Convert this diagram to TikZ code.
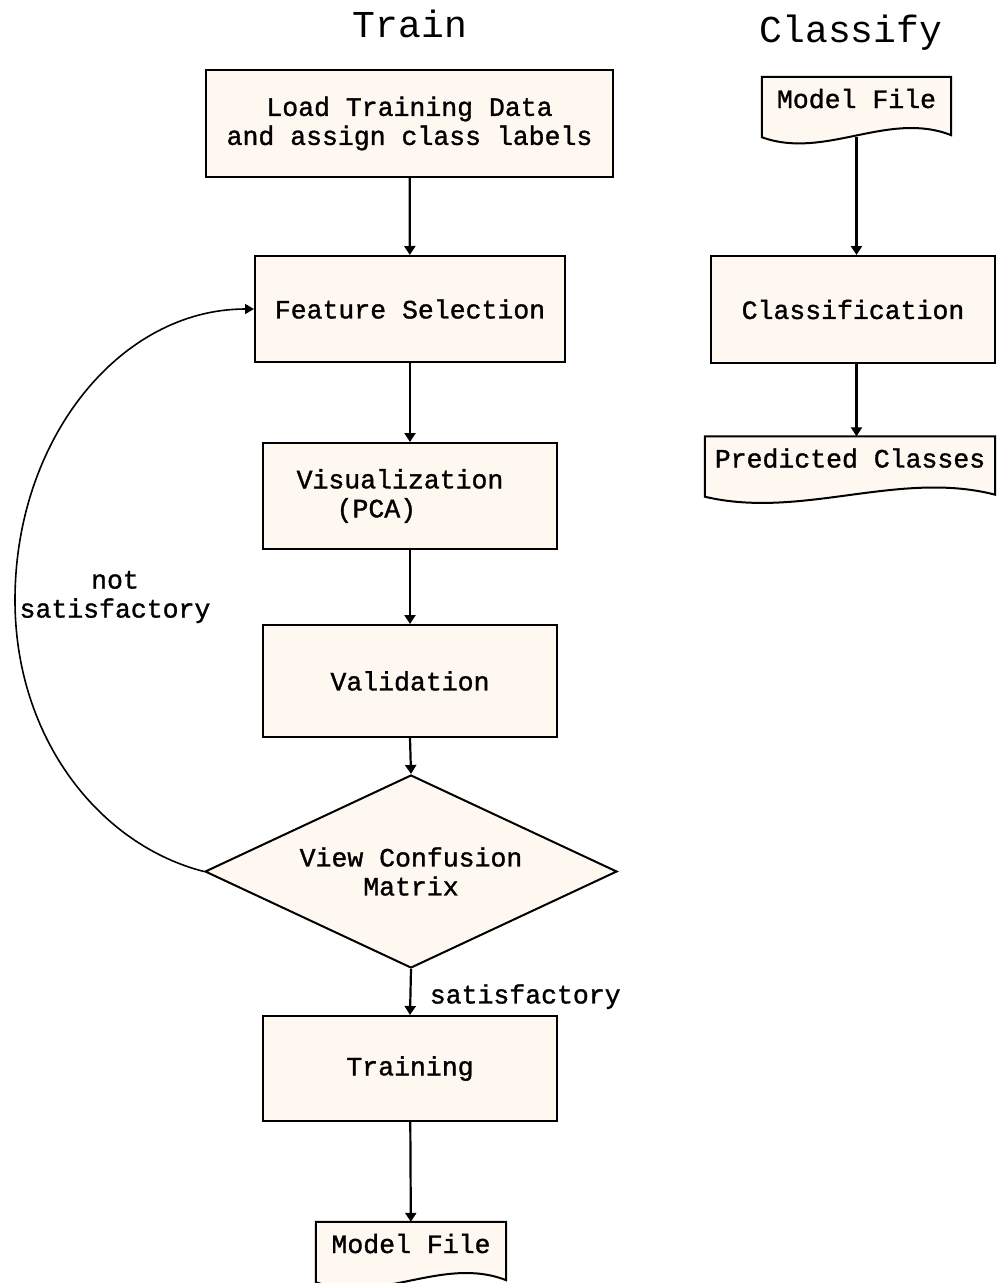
\documentclass[tikz,border=0pt]{standalone}
\usepackage{fontspec}
\setmainfont{Liberation Mono}[FakeBold=1.2]
\newfontfamily\titlefont{Liberation Mono}
\usetikzlibrary{shapes.geometric,arrows.meta,calc,backgrounds}

\definecolor{boxfill}{RGB}{255,248,240}

% Outline of a "document" shape: flat top, wavy bottom edge
\newcommand\docoutline[1]{%
  \path[draw=black,line width=2pt,fill=boxfill,line join=miter]
    (#1.south west) -- (#1.north west) -- (#1.north east) -- ($(#1.south east)+(0,-2)$)
    .. controls ($(#1.south west)!0.667!(#1.south east)+(0,-27)$)
            and ($(#1.south west)!0.333!(#1.south east)+(0,23)$) .. (#1.south west) -- cycle;}

\begin{document}
\begin{tikzpicture}[x=1pt,y=-1pt,
  every node/.style={font=\fontsize{26.5}{29}\selectfont},
  procbox/.style={draw=black,line width=2pt,fill=boxfill,rectangle,inner sep=0pt,align=center},
  decbox/.style={draw=black,line width=2pt,fill=boxfill,diamond,shape aspect=2.13,inner sep=0pt,align=center},
  docnode/.style={rectangle,inner sep=0pt,text height=31pt,text depth=29pt,minimum height=60pt},
  title/.style={font=\titlefont\fontsize{38}{44}\selectfont},
  flow/.style={line width=2.2pt,-{Triangle[width=11pt,length=9pt]}},
  loopline/.style={line width=1.6pt,-{Triangle[width=10pt,length=9pt]}},
  note/.style={align=center}]

\useasboundingbox (0,0) rectangle (997,1283);

% column titles
\node[title] (ttrain) at (410,24) {Train};
\node[title] (tclass) at (851,33) {Classify};

% training column
\node[procbox,minimum width=407pt,minimum height=107pt] (load) at (409.5,123.5)
  {Load Training Data\\and assign class labels};
\node[procbox,minimum width=310pt,minimum height=106pt] (fs) at (410,309) {Feature Selection};
\node[procbox,minimum width=294pt,minimum height=106pt,align=left] (vis) at (410,496)
  {Visualization\hspace*{20pt}\\\hspace*{40pt}(PCA)};
\node[procbox,minimum width=294pt,minimum height=112pt] (val) at (410,681) {Validation};
\node[decbox,minimum width=412pt,minimum height=193pt] (dia) at (411,871.5)
  {View Confusion\\Matrix};
\node[procbox,minimum width=294pt,minimum height=105pt] (train) at (410,1068.5) {Training};
\node[docnode,minimum width=190pt] (mfB) at (411,1252) {Model File};

% classification column
\node[docnode,minimum width=189pt] (mfA) at (856.5,107) {Model File};
\node[procbox,minimum width=284pt,minimum height=107pt] (cls) at (853,309.5) {Classification};
\node[docnode,minimum width=290pt] (pred) at (850,466.5) {Predicted Classes};

% document outlines behind their labels
\begin{scope}[on background layer]
  \docoutline{mfA}
  \docoutline{pred}
  \docoutline{mfB}
\end{scope}

% connectors
\draw[flow] (load) -- (fs);
\draw[flow] (fs) -- (vis);
\draw[flow] (vis) -- (val);
\draw[flow] (val.south) -- (dia.north);
\draw[flow] (dia.south) -- node[pos=0.6,anchor=west,xshift=15pt] (lsat) {satisfactory} (train.north);
\draw[flow] (train) -- (mfB);

\draw[flow] (mfA.south) -- (mfA.south |- cls.north);
\draw[flow] (mfA.south |- cls.south) -- (mfA.south |- pred.north);

% feedback loop
\coordinate (lp) at (15,600);
\draw[loopline] (dia.west) .. controls (100,845) and (15,739) .. (lp)
  .. controls (15,439) and (120,309) .. (fs.west);
\node[note] (nsat) at (115,597) {not\\satisfactory};

\end{tikzpicture}
\end{document}
